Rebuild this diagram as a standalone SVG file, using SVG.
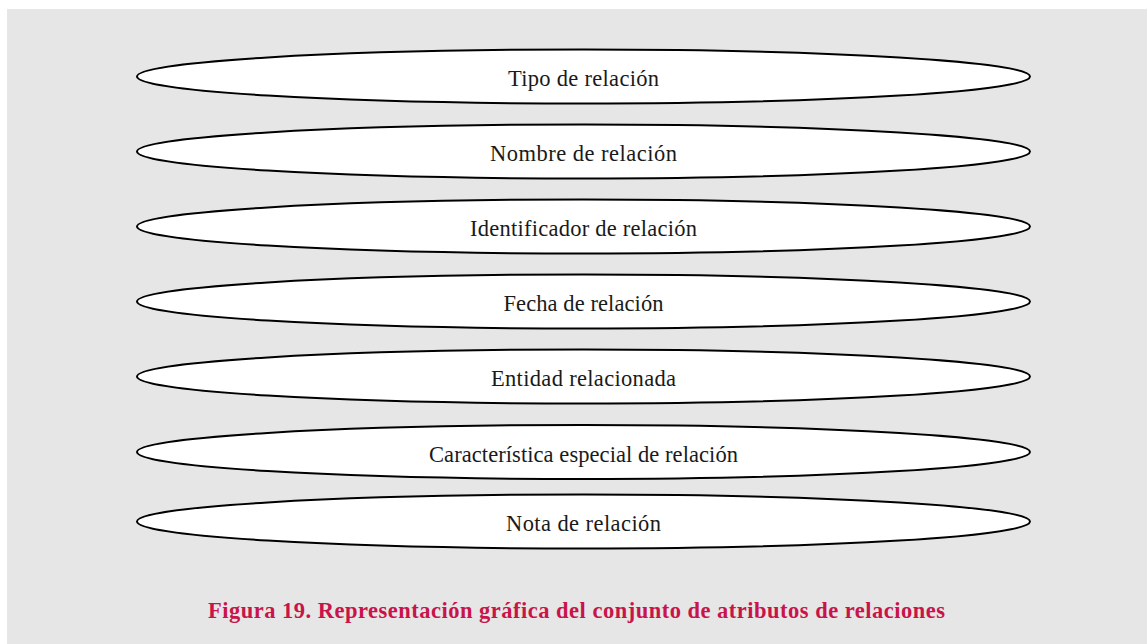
<svg xmlns="http://www.w3.org/2000/svg" width="1147" height="644" viewBox="0 0 1147 644">
<style>
.bg{fill:#e6e6e6}
.node ellipse{fill:#ffffff;stroke:#000000;stroke-width:2}
.node text{font-family:"Liberation Serif","Times New Roman",serif;font-size:22.5px;fill:#1a1a1a;text-anchor:middle}
.cap{font-family:"Liberation Serif","Times New Roman",serif;font-size:22.5px;font-weight:bold;fill:#c8144a;text-anchor:middle}
</style>
<rect class="bg" x="7" y="9" width="1140" height="635"/>
<g id="n1" class="node"><ellipse cx="583.5" cy="76.5" rx="446.5" ry="27"/><text x="583.5" y="86" textLength="151">Tipo de relación</text></g>
<g id="n2" class="node"><ellipse cx="583.5" cy="151.5" rx="446.5" ry="27"/><text x="583.5" y="161" textLength="187">Nombre de relación</text></g>
<g id="n3" class="node"><ellipse cx="583.5" cy="226.5" rx="446.5" ry="27"/><text x="583.5" y="236" textLength="227">Identificador de relación</text></g>
<g id="n4" class="node"><ellipse cx="583.5" cy="301.5" rx="446.5" ry="27"/><text x="583.5" y="311" textLength="160">Fecha de relación</text></g>
<g id="n5" class="node"><ellipse cx="583.5" cy="376.5" rx="446.5" ry="27"/><text x="583.5" y="386" textLength="185">Entidad relacionada</text></g>
<g id="n6" class="node"><ellipse cx="583.5" cy="452" rx="446.5" ry="27"/><text x="583.5" y="461.5" textLength="309">Característica especial de relación</text></g>
<g id="n7" class="node"><ellipse cx="583.5" cy="521.5" rx="446.5" ry="27"/><text x="583.5" y="531" textLength="155">Nota de relación</text></g>
<g id="connectors"></g>
<text class="cap" x="576.5" y="618" textLength="737">Figura 19. Representación gráfica del conjunto de atributos de relaciones</text>
</svg>
